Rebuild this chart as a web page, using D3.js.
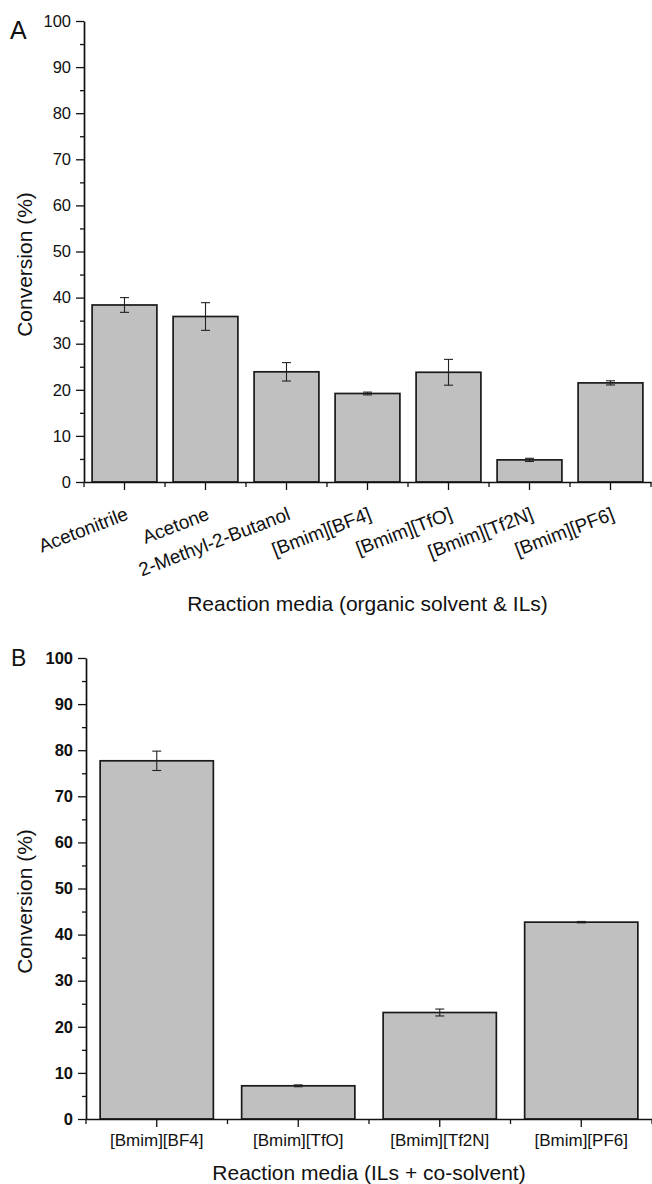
<!DOCTYPE html>
<html>
<head>
<meta charset="utf-8">
<script src="https://cdn.jsdelivr.net/npm/d3@7"></script>
<style>
  body { margin: 0; background: #fff; }
  svg text { font-family: "Liberation Sans", Arial, sans-serif; fill: #111; }
</style>
</head>
<body>
<div id="chart"></div>
<script>
// panel A - organic solvents & ILs
var catsA = ["Acetonitrile", "Acetone", "2-Methyl-2-Butanol", "[Bmim][BF4]", "[Bmim][TfO]", "[Bmim][Tf2N]", "[Bmim][PF6]"];
var valsA = [38.4, 35.9, 23.9, 19.2, 23.8, 4.8, 21.5];
var errA  = [1.6, 3.0, 2.0, 0.3, 2.8, 0.35, 0.45];

// panel B - ILs + co-solvent
var catsB = ["[Bmim][BF4]", "[Bmim][TfO]", "[Bmim][Tf2N]", "[Bmim][PF6]"];
var valsB = [77.7, 7.2, 23.1, 42.7];
var errB  = [2.1, 0.2, 0.75, 0.15];

var yTicks = [0, 10, 20, 30, 40, 50, 60, 70, 80, 90, 100];

var svg = d3.select("#chart")
  .append("svg")
  .attr("width", 652)
  .attr("height", 1184);

function panel(opt) {
  var x = d3.scaleBand()
    .domain(opt.cats)
    .range([opt.left, opt.right])
    .paddingInner(0.2)
    .paddingOuter(0.1);

  var y = d3.scaleLinear()
    .domain([0, 100])
    .range([opt.bottom, opt.top]);

  var g = svg.append("g");

  // bars
  g.selectAll("rect.bar")
    .data(opt.vals)
    .join("rect")
      .attr("class", "bar")
      .attr("x", function(d, i) { return x(opt.cats[i]); })
      .attr("y", function(d) { return y(d); })
      .attr("width", x.bandwidth())
      .attr("height", function(d) { return y(0) - y(d); })
      .style("fill", "#c0c0c0")
      .style("stroke", "#1a1a1a")
      .style("stroke-width", 1.7);

  // error bars
  var eb = g.selectAll("g.err")
    .data(opt.vals)
    .join("g")
      .attr("class", "err")
      .attr("transform", function(d, i) { return "translate(" + (x(opt.cats[i]) + x.bandwidth() / 2) + ",0)"; })
      .style("stroke", "#222")
      .style("stroke-width", 1.1);
  eb.append("line")
    .attr("y1", function(d, i) { return y(d + opt.err[i]); })
    .attr("y2", function(d, i) { return y(d - opt.err[i]); });
  eb.append("line")
    .attr("x1", -4.5).attr("x2", 4.5)
    .attr("y1", function(d, i) { return y(d + opt.err[i]); })
    .attr("y2", function(d, i) { return y(d + opt.err[i]); });
  eb.append("line")
    .attr("x1", -4.5).attr("x2", 4.5)
    .attr("y1", function(d, i) { return y(d - opt.err[i]); })
    .attr("y2", function(d, i) { return y(d - opt.err[i]); });

  // y axis, minor ticks first then the major one
  g.append("g")
    .attr("transform", "translate(" + opt.left + ",0)")
    .call(d3.axisLeft(y).tickValues(d3.range(5, 100, 10)).tickSize(4).tickFormat(""))
    .call(function(a) { a.select(".domain").remove(); })
    .selectAll("line").style("stroke", "#111").style("stroke-width", 1.3);

  var ya = g.append("g")
    .attr("transform", "translate(" + opt.left + ",0)")
    .call(d3.axisLeft(y).tickValues(yTicks).tickSize(8).tickPadding(5).tickSizeOuter(0));
  ya.select(".domain").style("stroke", "#111").style("stroke-width", 1.7);
  ya.selectAll("line").style("stroke", "#111").style("stroke-width", 1.3);
  ya.selectAll("text")
    .style("font-size", "16.5px")
    .style("font-weight", opt.tickWeight)
    .style("font-family", "Liberation Sans, Arial, sans-serif")
    .style("fill", "#111");

  // x axis
  var xa = g.append("g")
    .attr("transform", "translate(0," + opt.bottom + ")")
    .call(d3.axisBottom(x).tickSize(8).tickSizeOuter(0).tickFormat(""));
  xa.select(".domain").style("stroke", "#111").style("stroke-width", 1.7);
  xa.selectAll("line").style("stroke", "#111").style("stroke-width", 1.3);

  // short ticks on the band boundaries
  var bounds = d3.range(opt.cats.length + 1).map(function(i) { return opt.left + i * x.step(); });
  xa.selectAll("line.bnd")
    .data(bounds)
    .join("line")
      .attr("class", "bnd")
      .attr("x1", function(d) { return d; })
      .attr("x2", function(d) { return d; })
      .attr("y1", 0).attr("y2", 5)
      .style("stroke", "#111").style("stroke-width", 1.3);

  // category labels
  var lab = g.selectAll("text.cat")
    .data(opt.cats)
    .join("text")
      .attr("class", "cat")
      .text(function(d) { return d; })
      .style("font-size", opt.catSize + "px");
  if (opt.rotate) {
    lab.attr("text-anchor", "end")
      .attr("transform", function(d) {
        return "translate(" + (x(d) + x.bandwidth() / 2 + 5) + "," + opt.catY + ") rotate(" + opt.rotate + ")";
      });
  } else {
    lab.attr("text-anchor", "middle")
      .attr("x", function(d) { return x(d) + x.bandwidth() / 2; })
      .attr("y", opt.catY);
  }

  // axis titles
  g.append("text")
    .attr("x", (opt.left + opt.right) / 2)
    .attr("y", opt.titleY)
    .attr("text-anchor", "middle")
    .style("font-size", "21px")
    .text(opt.title);

  g.append("text")
    .attr("transform", "translate(31.5," + ((opt.top + opt.bottom) / 2 + 13) + ") rotate(-90)")
    .attr("text-anchor", "middle")
    .style("font-size", "21px")
    .text("Conversion (%)");

  // panel letter
  g.append("text")
    .attr("x", opt.letterX)
    .attr("y", opt.letterY)
    .style("font-size", opt.letterSize + "px")
    .text(opt.letter);
}

panel({
  cats: catsA, vals: valsA, err: errA,
  left: 84, right: 651, top: 21, bottom: 482,
  rotate: -21, catSize: 19, catY: 519,
  title: "Reaction media (organic solvent & ILs)", titleY: 611,
  letter: "A", letterX: 10, letterY: 38.5, letterSize: 25,
  tickWeight: "normal"
});

panel({
  cats: catsB, vals: valsB, err: errB,
  left: 86, right: 652, top: 658, bottom: 1119,
  rotate: 0, catSize: 17, catY: 1146,
  title: "Reaction media (ILs + co-solvent)", titleY: 1180,
  letter: "B", letterX: 11, letterY: 666, letterSize: 23,
  tickWeight: "bold"
});
</script>
</body>
</html>
